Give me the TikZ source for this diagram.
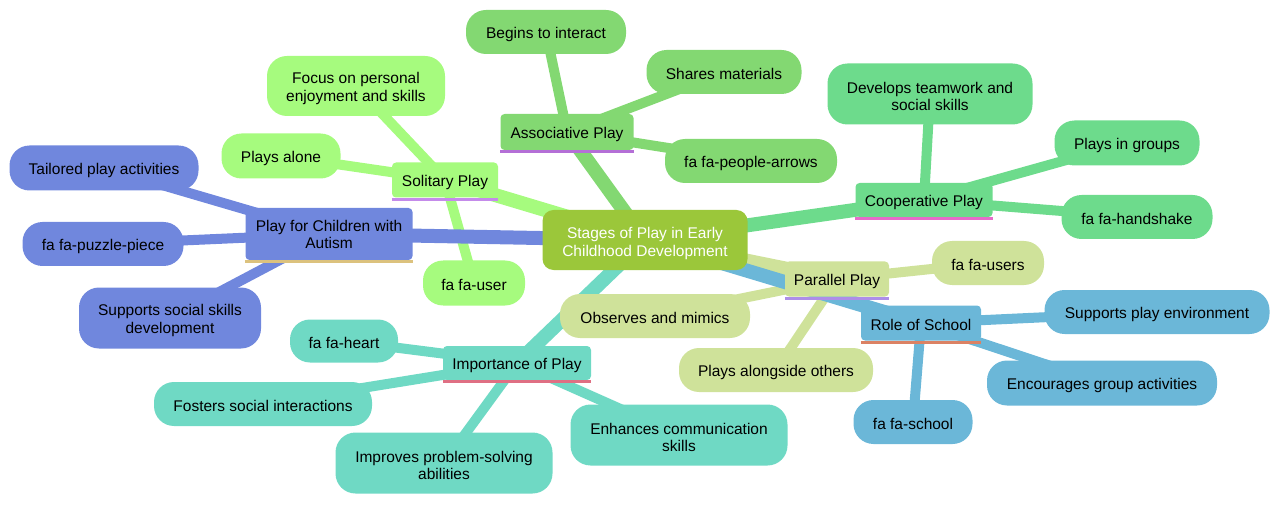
\documentclass[tikz,border=0pt]{standalone}
\usepackage{fontspec}
\setmainfont{Liberation Sans}
\newcommand{\mmnode}[7][-2pt]{%
  \node[#2, sz={#5}{#6}] (#3) at (#4) {};
  \node[base, #2, fill=none, draw=none] (#3-t) at ([yshift=#1]#3.center) {#7};}
\begin{document}
\begin{tikzpicture}[x=1pt,y=-1pt,
  base/.style={inner sep=0pt, align=center, font=\fontsize{15.5}{17.5}\selectfont, text=black},
  pill/.style={base, rounded corners=20pt, fill=#1},
  sec/.style={base, rounded corners=4pt, fill=#1},
  rootnode/.style={base, rounded corners=11pt, fill=rootc, text=white},
  sz/.style 2 args={minimum width=#1pt, minimum height=#2pt},
  e1/.style={line width=14pt, draw=#1},
  e2/.style={line width=10pt, draw=#1},
  ul/.style={line width=3pt, draw=#1}
]
\definecolor{rootc}{HTML}{9BC73A}
\definecolor{assoc}{HTML}{83D872}
\definecolor{solit}{HTML}{A6FB7E}
\definecolor{coop}{HTML}{6DDB8C}
\definecolor{paral}{HTML}{CFE29A}
\definecolor{school}{HTML}{6BB7D8}
\definecolor{impor}{HTML}{6FD9C4}
\definecolor{autis}{HTML}{7087DD}
\definecolor{ulassoc}{HTML}{B46FD6}
\definecolor{ulsolit}{HTML}{C48BEA}
\definecolor{ulcoop}{HTML}{E66CC9}
\definecolor{ulparal}{HTML}{AD8EE8}
\definecolor{ulschool}{HTML}{DB8264}
\definecolor{ulimpor}{HTML}{DF6F83}
\definecolor{ulautis}{HTML}{DCC27E}
\useasboundingbox (0,0) rectangle (1280,505);

% coordinates of nodes (centres)
\coordinate (cR) at (645,240);
\coordinate (cA) at (567,132);
\coordinate (cA1) at (546,32);
\coordinate (cA2) at (724,72);
\coordinate (cA3) at (751,161);
\coordinate (cS) at (445,180);
\coordinate (cS1) at (356,86);
\coordinate (cS2) at (281,156);
\coordinate (cS3) at (474,283);
\coordinate (cC) at (924,200);
\coordinate (cC1) at (930,94);
\coordinate (cC2) at (1127,143);
\coordinate (cC3) at (1137,217);
\coordinate (cP) at (837,279);
\coordinate (cP1) at (988,263);
\coordinate (cP2) at (655,316);
\coordinate (cP3) at (776,370);
\coordinate (cO) at (921,323);
\coordinate (cO1) at (1157,312);
\coordinate (cO2) at (1102,383);
\coordinate (cO3) at (913,422);
\coordinate (cI) at (517,363);
\coordinate (cI1) at (344,341);
\coordinate (cI2) at (263,404);
\coordinate (cI3) at (444,463);
\coordinate (cI4) at (679,435);
\coordinate (cU) at (329,234);
\coordinate (cU1) at (104,168);
\coordinate (cU2) at (103,244);
\coordinate (cU3) at (170,318);

% child edges
\draw[e2=assoc] (cA) -- (cA1);
\draw[e2=assoc] (cA) -- (cA2);
\draw[e2=assoc] (cA) -- (cA3);
\draw[e2=solit] (cS) -- (cS1);
\draw[e2=solit] (cS) -- (cS2);
\draw[e2=solit] (cS) -- (cS3);
\draw[e2=coop] (cC) -- (cC1);
\draw[e2=coop] (cC) -- (cC2);
\draw[e2=coop] (cC) -- (cC3);
\draw[e2=paral] (cP) -- (cP1);
\draw[e2=paral] (cP) -- (cP2);
\draw[e2=paral] (cP) -- (cP3);
\draw[e2=school] (cO) -- (cO1);
\draw[e2=school] (cO) -- (cO2);
\draw[e2=school] (cO) -- (cO3);
\draw[e2=impor] (cI) -- (cI1);
\draw[e2=impor] (cI) -- (cI2);
\draw[e2=impor] (cI) -- (cI3);
\draw[e2=impor] (cI) -- (cI4);
\draw[e2=autis] (cU) -- (cU1);
\draw[e2=autis] (cU) -- (cU2);
\draw[e2=autis] (cU) -- (cU3);
% root edges
\draw[e1=assoc] (cR) -- (cA);
\draw[e1=solit] (cR) -- (cS);
\draw[e1=coop] (cR) -- (cC);
\draw[e1=paral] (cR) -- (cP);
\draw[e1=school] (cR) -- (cO);
\draw[e1=impor] (cR) -- (cI);
\draw[e1=autis] (cR) -- (cU);

% root
\mmnode[-3.5pt]{rootnode}{root}{cR}{205}{60}{Stages of Play in Early\\Childhood Development}

% Associative
\mmnode{sec=assoc}{A}{cA}{133}{36}{Associative Play}
\draw[ul=ulassoc] ([yshift=-1.5pt]A.south west) -- ([yshift=-1.5pt]A.south east);
\mmnode{pill=assoc}{A1}{cA1}{160}{44}{Begins to interact}
\mmnode{pill=assoc}{A2}{cA2}{155}{44}{Shares materials}
\mmnode{pill=assoc}{A3}{cA3}{172}{44}{fa fa-people-arrows}

% Solitary
\mmnode{sec=solit}{S}{cS}{106}{35}{Solitary Play}
\draw[ul=ulsolit] ([yshift=-1.5pt]S.south west) -- ([yshift=-1.5pt]S.south east);
\mmnode[-2.5pt]{pill=solit}{S1}{cS1}{178}{60}{Focus on personal\\enjoyment and skills}
\mmnode{pill=solit}{S2}{cS2}{119}{45}{Plays alone}
\mmnode{pill=solit}{S3}{cS3}{102}{45}{fa fa-user}

% Cooperative
\mmnode{sec=coop}{C}{cC}{137}{34}{Cooperative Play}
\draw[ul=ulcoop] ([yshift=-1.5pt]C.south west) -- ([yshift=-1.5pt]C.south east);
\mmnode[-2.5pt]{pill=coop}{C1}{cC1}{205}{61}{Develops teamwork and\\social skills}
\mmnode{pill=coop}{C2}{cC2}{145}{45}{Plays in groups}
\mmnode{pill=coop}{C3}{cC3}{151}{44}{fa fa-handshake}

% Parallel
\mmnode{sec=paral}{P}{cP}{104}{35}{Parallel Play}
\draw[ul=ulparal] ([yshift=-1.5pt]P.south west) -- ([yshift=-1.5pt]P.south east);
\mmnode{pill=paral}{P1}{cP1}{112}{44}{fa fa-users}
\mmnode{pill=paral}{P2}{cP2}{190}{44}{Observes and mimics}
\mmnode{pill=paral}{P3}{cP3}{194}{44}{Plays alongside others}

% Role of School
\mmnode{sec=school}{O}{cO}{120}{35}{Role of School}
\draw[ul=ulschool] ([yshift=-1.5pt]O.south west) -- ([yshift=-1.5pt]O.south east);
\mmnode{pill=school}{O1}{cO1}{225}{44}{Supports play environment}
\mmnode{pill=school}{O2}{cO2}{230}{45}{Encourages group activities}
\mmnode{pill=school}{O3}{cO3}{119}{44}{fa fa-school}

% Importance
\mmnode{sec=impor}{I}{cI}{148}{34}{Importance of Play}
\draw[ul=ulimpor] ([yshift=-1.5pt]I.south west) -- ([yshift=-1.5pt]I.south east);
\mmnode{pill=impor}{I1}{cI1}{108}{43}{fa fa-heart}
\mmnode{pill=impor}{I2}{cI2}{218}{44}{Fosters social interactions}
\mmnode[-2.5pt]{pill=impor}{I3}{cI3}{217}{61}{Improves problem-solving\\abilities}
\mmnode[-2.5pt]{pill=impor}{I4}{cI4}{217}{61}{Enhances communication\\skills}

% Autism
\mmnode[-0.5pt]{sec=autis}{U}{cU}{167}{52}{Play for Children with\\Autism}
\draw[ul=ulautis] ([yshift=-1.5pt]U.south west) -- ([yshift=-1.5pt]U.south east);
\mmnode{pill=autis}{U1}{cU1}{189}{45}{Tailored play activities}
\mmnode{pill=autis}{U2}{cU2}{161}{44}{fa fa-puzzle-piece}
\mmnode[-2.5pt]{pill=autis}{U3}{cU3}{182}{61}{Supports social skills\\development}
\end{tikzpicture}
\end{document}
